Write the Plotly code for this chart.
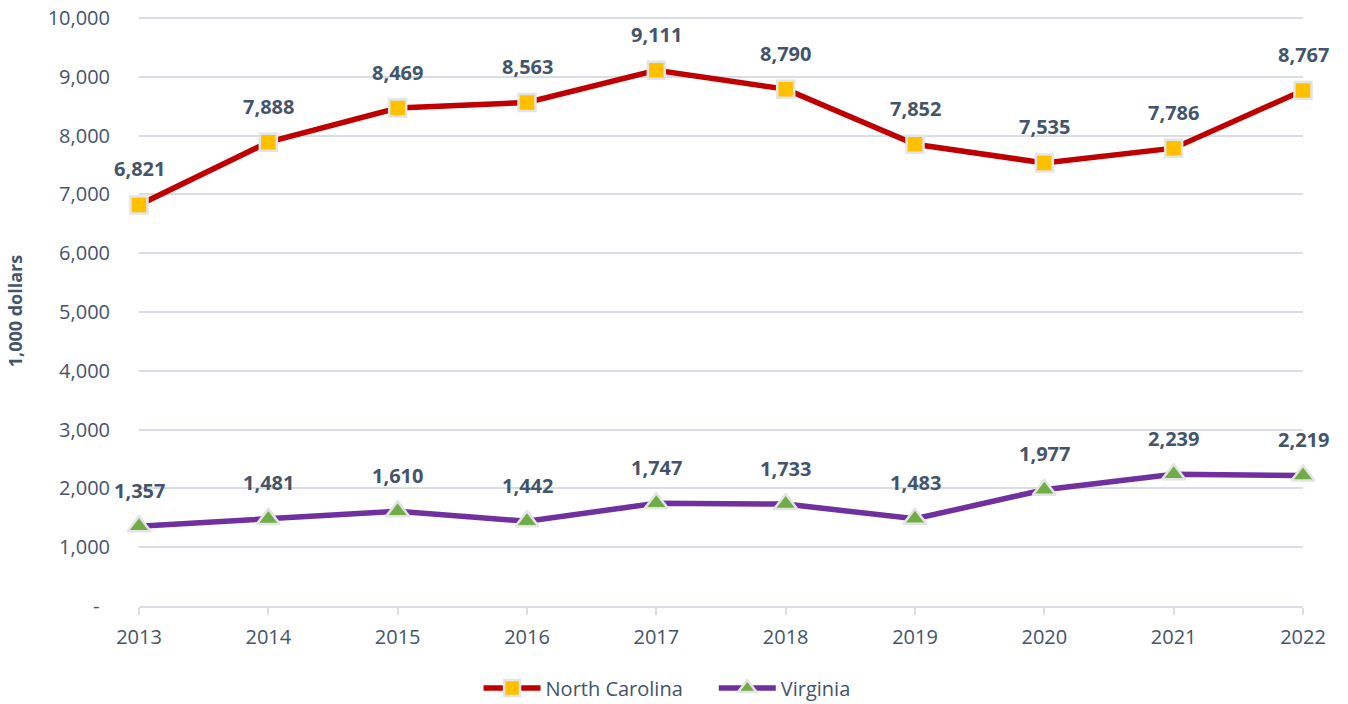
import plotly.graph_objects as go

years = [2013, 2014, 2015, 2016, 2017, 2018, 2019, 2020, 2021, 2022]
north_carolina = [6821, 7888, 8469, 8563, 9111, 8790, 7852, 7535, 7786, 8767]
virginia = [1357, 1481, 1610, 1442, 1747, 1733, 1483, 1977, 2239, 2219]
y_tickvals = [0, 1000, 2000, 3000, 4000, 5000, 6000, 7000, 8000, 9000, 10000]
y_ticktext = ["-\u00a0\u00a0", "1,000", "2,000", "3,000", "4,000", "5,000", "6,000",
              "7,000", "8,000", "9,000", "10,000"]

FONT = "Open Sans, sans-serif"
TXT = "#44546A"
GRID = "#D9DEE5"
GAP = "\u00a0" * 5

fig = go.Figure()
fig.add_trace(go.Scatter(
    x=years, y=north_carolina, name="North Carolina" + GAP, mode="lines+markers",
    line=dict(color="#C00000", width=5.5),
    marker=dict(symbol="square", size=17, color="#FFC000", line=dict(color="#E4E4E4", width=2.5)),
    cliponaxis=False,
))
fig.add_trace(go.Scatter(
    x=years, y=virginia, name="Virginia", mode="lines+markers",
    line=dict(color="#7030A0", width=5.5),
    marker=dict(symbol="triangle-up", size=20, color="#70AD47", line=dict(color="#E4E4E4", width=2.5)),
    cliponaxis=False,
))

annotations = []
for series in (north_carolina, virginia):
    for x, y in zip(years, series):
        annotations.append(dict(
            x=x, y=y, xref="x", yref="y", text=f"<b>{y:,}</b>", showarrow=False,
            yshift=36, font=dict(family=FONT, size=20, color=TXT),
        ))

fig.update_layout(
    width=1348, height=704,
    margin=dict(l=139, r=45, t=16, b=98, autoexpand=False),
    plot_bgcolor="white", paper_bgcolor="white",
    font=dict(family=FONT, size=20, color=TXT),
    annotations=annotations,
    legend=dict(orientation="h", x=0.2917, xanchor="left",
                y=-0.139, yanchor="middle", itemwidth=57,
                font=dict(family=FONT, size=20, color=TXT)),
    xaxis=dict(
        range=[2013, 2022], tickvals=years, ticktext=[str(y) for y in years],
        showgrid=False, showline=True, linecolor=GRID, linewidth=1.5,
        ticks="outside", ticklen=7, tickcolor=GRID, tickwidth=1.5,
        tickfont=dict(family=FONT, size=20, color=TXT), zeroline=False,
        ticklabelstandoff=5,
    ),
    yaxis=dict(
        range=[0, 10034], tickvals=y_tickvals, ticktext=y_ticktext,
        showgrid=True, gridcolor=GRID, gridwidth=1.5, zeroline=False,
        tickfont=dict(family=FONT, size=20, color=TXT), ticklabelstandoff=28,
        title=dict(text="<b>1,000 dollars</b>", font=dict(family=FONT, size=18, color=TXT), standoff=20),
    ),
)

# remove the page's default 8px body margin so the figure sits at the window's corner
fig.write_html("out.html", config={"displayModeBar": False},
               post_script="document.body.style.margin='0';")
